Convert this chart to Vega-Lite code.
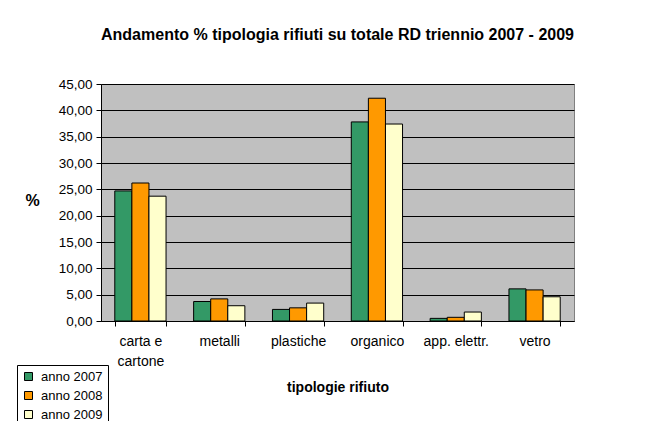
{
  "$schema": "https://vega.github.io/schema/vega-lite/v6.json",
  "autosize": "none",
  "width": 473,
  "height": 237,
  "padding": {"left": 101, "top": 84, "right": 80, "bottom": 100},
  "background": "white",
  "title": {
    "text": "Andamento % tipologia rifiuti su totale RD triennio 2007 - 2009",
    "font": "Liberation Sans",
    "fontSize": 16,
    "fontWeight": "bold",
    "color": "black",
    "anchor": "middle",
    "offset": 34
  },
  "config": {
    "locale": {"number": {"decimal": ",", "thousands": ".", "grouping": [3], "currency": ["€", ""]}},
    "view": {"fill": "#C0C0C0", "stroke": "#808080", "strokeWidth": 1},
    "font": "Liberation Sans"
  },
  "data": {
    "values": [
      {"tipologia": "carta e cartone", "anno": "anno 2007", "valore": 24.7},
      {"tipologia": "carta e cartone", "anno": "anno 2008", "valore": 26.2},
      {"tipologia": "carta e cartone", "anno": "anno 2009", "valore": 23.7},
      {"tipologia": "metalli", "anno": "anno 2007", "valore": 3.7},
      {"tipologia": "metalli", "anno": "anno 2008", "valore": 4.2},
      {"tipologia": "metalli", "anno": "anno 2009", "valore": 2.9},
      {"tipologia": "plastiche", "anno": "anno 2007", "valore": 2.2},
      {"tipologia": "plastiche", "anno": "anno 2008", "valore": 2.5},
      {"tipologia": "plastiche", "anno": "anno 2009", "valore": 3.4},
      {"tipologia": "organico", "anno": "anno 2007", "valore": 37.8},
      {"tipologia": "organico", "anno": "anno 2008", "valore": 42.3},
      {"tipologia": "organico", "anno": "anno 2009", "valore": 37.4},
      {"tipologia": "app. elettr.", "anno": "anno 2007", "valore": 0.5},
      {"tipologia": "app. elettr.", "anno": "anno 2008", "valore": 0.7},
      {"tipologia": "app. elettr.", "anno": "anno 2009", "valore": 1.7},
      {"tipologia": "vetro", "anno": "anno 2007", "valore": 6.1},
      {"tipologia": "vetro", "anno": "anno 2008", "valore": 5.9},
      {"tipologia": "vetro", "anno": "anno 2009", "valore": 4.6}
    ]
  },
  "mark": {"type": "bar", "stroke": "black", "strokeWidth": 1},
  "encoding": {
    "x": {
      "field": "tipologia",
      "type": "nominal",
      "sort": null,
      "scale": {"paddingInner": 0.35, "paddingOuter": 0.175},
      "axis": {
        "title": "tipologie rifiuto",
        "titleFont": "Liberation Sans",
        "titleFontSize": 14,
        "titleFontWeight": "bold",
        "titleColor": "black",
        "titlePadding": 12,
        "labelAngle": 0,
        "labelFont": "Liberation Sans",
        "labelFontSize": 14,
        "labelColor": "black",
        "labelPadding": 8,
        "labelLineHeight": 20,
        "labelExpr": "datum.label == 'carta e cartone' ? ['carta e', 'cartone'] : datum.label",
        "domainColor": "black",
        "tickColor": "black",
        "tickSize": 5,
        "tickBand": "extent",
        "grid": false
      }
    },
    "xOffset": {"field": "anno", "type": "nominal"},
    "y": {
      "field": "valore",
      "type": "quantitative",
      "scale": {"domain": [0, 45], "nice": false},
      "axis": {
        "title": "%",
        "titleAngle": 0,
        "titleX": -69,
        "titleY": 116,
        "titleAlign": "center",
        "titleBaseline": "middle",
        "titleFont": "Liberation Sans",
        "titleFontSize": 16,
        "titleFontWeight": "bold",
        "titleColor": "black",
        "values": [0, 5, 10, 15, 20, 25, 30, 35, 40, 45],
        "format": ".2f",
        "labelFont": "Liberation Sans",
        "labelFontSize": 13.5,
        "labelColor": "black",
        "labelPadding": 4,
        "domainColor": "black",
        "tickColor": "black",
        "tickSize": 5,
        "grid": true,
        "gridColor": "black",
        "gridWidth": 1,
        "gridOpacity": 1
      }
    },
    "color": {
      "field": "anno",
      "type": "nominal",
      "scale": {"domain": ["anno 2007", "anno 2008", "anno 2009"], "range": ["#339966", "#FF9900", "#FFFFCC"]},
      "legend": {
        "title": null,
        "orient": "none",
        "legendX": -84,
        "legendY": 281,
        "symbolType": "square",
        "symbolSize": 64,
        "symbolStrokeColor": "black",
        "symbolStrokeWidth": 1,
        "labelFont": "Liberation Sans",
        "labelFontSize": 13,
        "labelColor": "black",
        "labelOffset": 6,
        "rowPadding": 5,
        "strokeColor": "black",
        "padding": 5,
        "fillColor": "white"
      }
    }
  }
}
